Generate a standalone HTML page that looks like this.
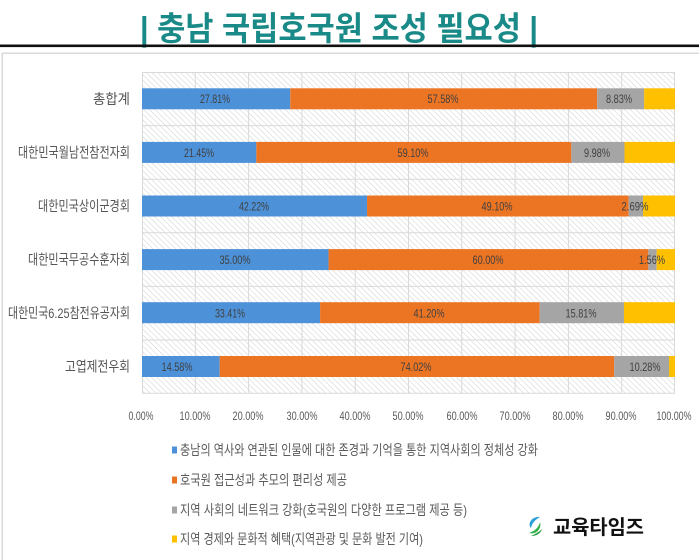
<!DOCTYPE html>
<html>
<head>
<meta charset="utf-8">
<style>
  html,body{margin:0;padding:0;background:#fff;}
  body{width:699px;height:560px;overflow:hidden;}
  svg{display:block;}
  .cat{font-family:"Liberation Sans","Noto Sans CJK KR",sans-serif;font-size:14px;fill:#555;}
  .tick{font-family:"Liberation Sans",sans-serif;font-size:11.5px;fill:#595959;}
  .dl{font-family:"Liberation Sans",sans-serif;font-size:12px;fill:#404040;}
  .lg{font-family:"Liberation Sans","Noto Sans CJK KR",sans-serif;font-size:14px;fill:#5a5a5a;}
</style>
</head>
<body>
<svg width="699" height="560" viewBox="0 0 699 560" xmlns="http://www.w3.org/2000/svg">
  <defs>
    <pattern id="h" width="4" height="4" patternUnits="userSpaceOnUse" patternTransform="rotate(-45)">
      <line x1="0" y1="0" x2="0" y2="4" stroke="#cfcfcf" stroke-width="1"/>
    </pattern>
  </defs>

  <!-- Title -->
  <text x="339" y="40" text-anchor="middle" textLength="398" lengthAdjust="spacingAndGlyphs"
        style="font-family:'Liberation Sans','Noto Sans CJK KR',sans-serif;font-size:33px;font-weight:bold;fill:#198a87;">| 충남 국립호국원 조성 필요성 |</text>

  <!-- top black line and frame -->
  <rect x="0" y="44.5" width="699" height="2.6" fill="#111"/>
  <rect x="2" y="52.5" width="697" height="1.5" fill="#dadada"/>
  <rect x="1.5" y="52.5" width="1.6" height="508" fill="#dadada"/>

  <!-- plot area -->
  <rect x="142" y="72" width="533" height="321.6" fill="#fff"/>
  <rect x="142" y="72" width="533" height="321.6" fill="url(#h)"/>

  <!-- gridlines -->
  <g stroke="#d9d9d9" stroke-width="1">
    <line x1="142.5" y1="72" x2="142.5" y2="393.6"/>
    <line x1="195.3" y1="72" x2="195.3" y2="393.6"/>
    <line x1="248.6" y1="72" x2="248.6" y2="393.6"/>
    <line x1="301.9" y1="72" x2="301.9" y2="393.6"/>
    <line x1="355.2" y1="72" x2="355.2" y2="393.6"/>
    <line x1="408.5" y1="72" x2="408.5" y2="393.6"/>
    <line x1="461.8" y1="72" x2="461.8" y2="393.6"/>
    <line x1="515.1" y1="72" x2="515.1" y2="393.6"/>
    <line x1="568.4" y1="72" x2="568.4" y2="393.6"/>
    <line x1="621.7" y1="72" x2="621.7" y2="393.6"/>
    <line x1="674.5" y1="72" x2="674.5" y2="393.6"/>
    <line x1="142" y1="72.5" x2="675" y2="72.5"/>
    <line x1="142" y1="125.6" x2="675" y2="125.6"/>
    <line x1="142" y1="179.2" x2="675" y2="179.2"/>
    <line x1="142" y1="232.8" x2="675" y2="232.8"/>
    <line x1="142" y1="286.4" x2="675" y2="286.4"/>
    <line x1="142" y1="340" x2="675" y2="340"/>
    <line x1="142" y1="393.3" x2="675" y2="393.3"/>
  </g>

  <!-- bars -->
  <g>
    <rect x="142" y="88.3" width="148.23" height="21" fill="#4d91d8"/>
    <rect x="290.23" y="88.3" width="306.9" height="21" fill="#ec7524"/>
    <rect x="597.13" y="88.3" width="47.06" height="21" fill="#a5a5a5"/>
    <rect x="644.19" y="88.3" width="30.81" height="21" fill="#ffc000"/>

    <rect x="142" y="141.9" width="114.33" height="21" fill="#4d91d8"/>
    <rect x="256.33" y="141.9" width="315.0" height="21" fill="#ec7524"/>
    <rect x="571.33" y="141.9" width="53.19" height="21" fill="#a5a5a5"/>
    <rect x="624.52" y="141.9" width="50.48" height="21" fill="#ffc000"/>

    <rect x="142" y="195.5" width="225.03" height="21" fill="#4d91d8"/>
    <rect x="367.03" y="195.5" width="261.7" height="21" fill="#ec7524"/>
    <rect x="628.73" y="195.5" width="14.34" height="21" fill="#a5a5a5"/>
    <rect x="643.07" y="195.5" width="31.93" height="21" fill="#ffc000"/>

    <rect x="142" y="249.1" width="186.55" height="21" fill="#4d91d8"/>
    <rect x="328.55" y="249.1" width="319.8" height="21" fill="#ec7524"/>
    <rect x="648.35" y="249.1" width="8.31" height="21" fill="#a5a5a5"/>
    <rect x="656.66" y="249.1" width="18.34" height="21" fill="#ffc000"/>

    <rect x="142" y="302.2" width="178.08" height="21" fill="#4d91d8"/>
    <rect x="320.08" y="302.2" width="219.6" height="21" fill="#ec7524"/>
    <rect x="539.68" y="302.2" width="84.27" height="21" fill="#a5a5a5"/>
    <rect x="623.95" y="302.2" width="51.05" height="21" fill="#ffc000"/>

    <rect x="142" y="356.0" width="77.71" height="21" fill="#4d91d8"/>
    <rect x="219.71" y="356.0" width="394.53" height="21" fill="#ec7524"/>
    <rect x="614.24" y="356.0" width="54.79" height="21" fill="#a5a5a5"/>
    <rect x="669.03" y="356.0" width="5.97" height="21" fill="#ffc000"/>
  </g>

  <!-- data labels -->
  <g class="dl" text-anchor="middle">
    <text x="215" y="103" textLength="30" lengthAdjust="spacingAndGlyphs">27.81%</text>
    <text x="443" y="103" textLength="31" lengthAdjust="spacingAndGlyphs">57.58%</text>
    <text x="619" y="103" textLength="26" lengthAdjust="spacingAndGlyphs">8.83%</text>

    <text x="199" y="157" textLength="30" lengthAdjust="spacingAndGlyphs">21.45%</text>
    <text x="413" y="157" textLength="31" lengthAdjust="spacingAndGlyphs">59.10%</text>
    <text x="597" y="157" textLength="26" lengthAdjust="spacingAndGlyphs">9.98%</text>

    <text x="254" y="210.5" textLength="30" lengthAdjust="spacingAndGlyphs">42.22%</text>
    <text x="497" y="210.5" textLength="31" lengthAdjust="spacingAndGlyphs">49.10%</text>
    <text x="635" y="210.5" textLength="27" lengthAdjust="spacingAndGlyphs">2.69%</text>

    <text x="235" y="264" textLength="31" lengthAdjust="spacingAndGlyphs">35.00%</text>
    <text x="488" y="264" textLength="31" lengthAdjust="spacingAndGlyphs">60.00%</text>
    <text x="652" y="264" textLength="26" lengthAdjust="spacingAndGlyphs">1.56%</text>

    <text x="230" y="317.5" textLength="30" lengthAdjust="spacingAndGlyphs">33.41%</text>
    <text x="429" y="317.5" textLength="31" lengthAdjust="spacingAndGlyphs">41.20%</text>
    <text x="581" y="317.5" textLength="31" lengthAdjust="spacingAndGlyphs">15.81%</text>

    <text x="177" y="371" textLength="31" lengthAdjust="spacingAndGlyphs">14.58%</text>
    <text x="416" y="371" textLength="31" lengthAdjust="spacingAndGlyphs">74.02%</text>
    <text x="645" y="371" textLength="31" lengthAdjust="spacingAndGlyphs">10.28%</text>
  </g>

  <!-- category labels -->
  <g class="cat" text-anchor="end">
    <text x="130" y="104" textLength="37" lengthAdjust="spacingAndGlyphs">총합계</text>
    <text x="130" y="157.5" textLength="112" lengthAdjust="spacingAndGlyphs">대한민국월남전참전자회</text>
    <text x="130" y="211" textLength="92" lengthAdjust="spacingAndGlyphs">대한민국상이군경회</text>
    <text x="130" y="264.5" textLength="102" lengthAdjust="spacingAndGlyphs">대한민국무공수훈자회</text>
    <text x="130" y="318" textLength="122" lengthAdjust="spacingAndGlyphs">대한민국6.25참전유공자회</text>
    <text x="130" y="371.5" textLength="65" lengthAdjust="spacingAndGlyphs">고엽제전우회</text>
  </g>

  <!-- x tick labels -->
  <g class="tick" text-anchor="middle">
    <text x="141" y="420" textLength="25" lengthAdjust="spacingAndGlyphs">0.00%</text>
    <text x="195" y="420" textLength="31" lengthAdjust="spacingAndGlyphs">10.00%</text>
    <text x="248" y="420" textLength="31" lengthAdjust="spacingAndGlyphs">20.00%</text>
    <text x="302" y="420" textLength="31" lengthAdjust="spacingAndGlyphs">30.00%</text>
    <text x="355" y="420" textLength="31" lengthAdjust="spacingAndGlyphs">40.00%</text>
    <text x="408" y="420" textLength="31" lengthAdjust="spacingAndGlyphs">50.00%</text>
    <text x="462" y="420" textLength="31" lengthAdjust="spacingAndGlyphs">60.00%</text>
    <text x="515" y="420" textLength="31" lengthAdjust="spacingAndGlyphs">70.00%</text>
    <text x="568" y="420" textLength="31" lengthAdjust="spacingAndGlyphs">80.00%</text>
    <text x="621" y="420" textLength="31" lengthAdjust="spacingAndGlyphs">90.00%</text>
    <text x="674" y="420" textLength="35" lengthAdjust="spacingAndGlyphs">100.00%</text>
  </g>

  <!-- legend -->
  <rect x="172" y="446.5" width="5" height="7" fill="#4d91d8"/>
  <rect x="172" y="476.5" width="5" height="7" fill="#ec7524"/>
  <rect x="172" y="506.5" width="5" height="7" fill="#a5a5a5"/>
  <rect x="172" y="535.5" width="5" height="7" fill="#ffc000"/>
  <g class="lg">
    <text x="180" y="455" textLength="358" lengthAdjust="spacingAndGlyphs">충남의 역사와 연관된 인물에 대한 존경과 기억을 통한 지역사회의 정체성 강화</text>
    <text x="180" y="485" textLength="167" lengthAdjust="spacingAndGlyphs">호국원 접근성과 추모의 편리성 제공</text>
    <text x="180" y="515" textLength="287" lengthAdjust="spacingAndGlyphs">지역 사회의 네트워크 강화(호국원의 다양한 프로그램 제공 등)</text>
    <text x="180" y="544" textLength="243" lengthAdjust="spacingAndGlyphs">지역 경제와 문화적 혜택(지역관광 및 문화 발전 기여)</text>
  </g>

  <!-- logo -->
  <g>
    <path d="M540 517 C532 516 527 524 531 528 C532 523 535 520 540 517 Z" fill="#2aa0d8"/>
    <path d="M529 533 C536 535 542 529 540 522 C539 527 535 531 529 533 Z" fill="#35b24a"/>
    <path d="M531 536 C537 536 541 533 542 529 C539 532 535 534 531 536 Z" fill="#2a9f45"/>
  </g>
  <text x="553" y="534" textLength="91" lengthAdjust="spacingAndGlyphs"
        style="font-family:'Liberation Sans','Noto Sans CJK KR',sans-serif;font-size:20px;font-weight:bold;fill:#111;">교육타임즈</text>
</svg>
</body>
</html>
